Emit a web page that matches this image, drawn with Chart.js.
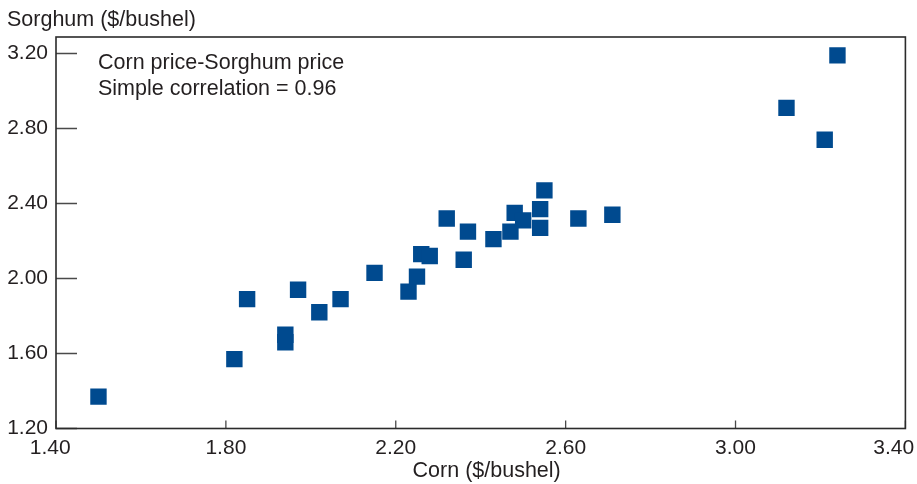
<!DOCTYPE html>
<html>
<head>
<meta charset="utf-8">
<script src="https://cdn.jsdelivr.net/npm/chart.js@4/dist/chart.umd.min.js"></script>
<style>
  html, body { margin: 0; padding: 0; background: #fff; }
  #wrap { width: 917px; height: 484px; position: relative; }
</style>
</head>
<body>
<div id="wrap"><canvas id="scatterChart"></canvas></div>
<script>
// Corn vs sorghum prices ($/bushel)
const cornPrices = [1.50, 1.82, 1.85, 1.94, 1.94, 1.97, 2.02, 2.07, 2.15, 2.23, 2.25, 2.26, 2.28, 2.32, 2.36, 2.37, 2.43, 2.47, 2.48, 2.50, 2.54, 2.54, 2.55, 2.63, 2.71, 3.12, 3.21, 3.24];
const sorghumPrices = [1.37, 1.57, 1.89, 1.70, 1.66, 1.94, 1.82, 1.89, 2.03, 1.93, 2.01, 2.13, 2.12, 2.32, 2.10, 2.25, 2.21, 2.25, 2.35, 2.31, 2.37, 2.27, 2.47, 2.32, 2.34, 2.91, 2.74, 3.19];

const xTicks = [1.40, 1.80, 2.20, 2.60, 3.00, 3.40];
const yTicks = [1.20, 1.60, 2.00, 2.40, 2.80, 3.20];

const yTitle = 'Sorghum ($/bushel)';
const xTitle = 'Corn ($/bushel)';
const noteLines = ['Corn price-Sorghum price', 'Simple correlation = 0.96'];

const FONT = '"Liberation Sans", Arial, Helvetica, sans-serif';
const TEXT = '#231f20';
const BLUE = '#004a8f';
const NB = '\u00a0';

// frame + inward tick marks
const framePlugin = {
  id: 'frame',
  beforeDatasetsDraw(chart) {
    const { ctx, chartArea: a, scales } = chart;
    ctx.save();
    ctx.strokeStyle = '#4a4a4a';
    ctx.lineWidth = 1.3;
    ctx.beginPath();
    yTicks.forEach(v => {
      const y = scales.y.getPixelForValue(v);
      ctx.moveTo(a.left, y);
      ctx.lineTo(a.left + 21, y);
    });
    xTicks.forEach(v => {
      const x = scales.x.getPixelForValue(v);
      ctx.moveTo(x, a.bottom);
      ctx.lineTo(x, a.bottom - 8);
    });
    ctx.stroke();
    ctx.strokeStyle = '#2b2b2b';
    ctx.lineWidth = 1.6;
    ctx.strokeRect(a.left, a.top, a.right - a.left, a.bottom - a.top);
    ctx.restore();
  },
  afterDraw(chart) {
    const { ctx } = chart;
    ctx.save();
    ctx.fillStyle = TEXT;
    ctx.textBaseline = 'alphabetic';
    ctx.textAlign = 'left';
    ctx.font = '21.5px ' + FONT;
    ctx.fillText(yTitle, 7, 26);
    noteLines.forEach((t, i) => ctx.fillText(t, 98, 69 + i * 26));
    ctx.restore();
  }
};

// edge labels sit a little inside the frame, as in the source figure
function xTickLabel(v, i, ticks) {
  const s = Number(v).toFixed(2);
  if (i === 0) return s + NB + NB;
  if (i === ticks.length - 1) return s + NB + NB + NB + NB;
  return s;
}

new Chart(document.getElementById('scatterChart'), {
  type: 'scatter',
  data: {
    datasets: [{
      data: cornPrices.map((c, i) => ({ x: c, y: sorghumPrices[i] })),
      backgroundColor: BLUE,
      borderColor: BLUE,
      borderWidth: 0,
      pointStyle: 'rect',
      pointRadius: 11.6,
      pointHoverRadius: 11.6,
    }],
  },
  options: {
    responsive: true,
    maintainAspectRatio: false,
    animation: false,
    layout: { padding: { top: 37, right: 11, left: 0, bottom: 0 } },
    plugins: {
      legend: { display: false },
      tooltip: { enabled: false },
    },
    scales: {
      x: {
        type: 'linear',
        min: 1.4,
        max: 3.4,
        afterFit: s => { s.height = 55.5; s.paddingLeft = 0; s.paddingRight = 0; },
        afterBuildTicks: s => { s.ticks = xTicks.map(v => ({ value: v })); },
        grid: { display: false, drawTicks: false },
        border: { display: false },
        ticks: {
          padding: 7,
          color: TEXT,
          font: { family: FONT, size: 21 },
          callback: xTickLabel,
          maxRotation: 0,
        },
        title: {
          display: true,
          text: NB + NB + xTitle,
          color: TEXT,
          font: { family: FONT, size: 21.5 },
          padding: { top: 0, bottom: 0 },
        },
      },
      y: {
        type: 'linear',
        min: 1.2,
        max: 3.288,
        afterFit: s => { s.width = 56; s.paddingTop = 0; s.paddingBottom = 0; },
        afterBuildTicks: s => { s.ticks = yTicks.map(v => ({ value: v })); },
        grid: { display: false, drawTicks: false },
        border: { display: false },
        ticks: {
          padding: 8,
          color: TEXT,
          font: { family: FONT, size: 21 },
          callback: v => Number(v).toFixed(2),
        },
      },
    },
  },
  plugins: [framePlugin],
});
</script>
</body>
</html>
